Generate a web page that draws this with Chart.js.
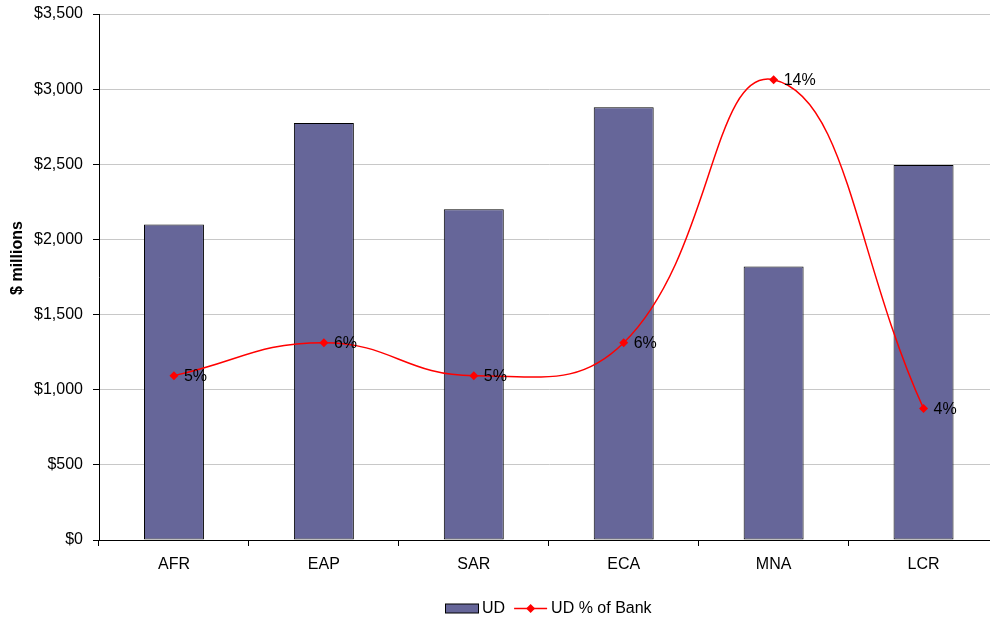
<!DOCTYPE html>
<html>
<head>
<meta charset="utf-8">
<script src="https://cdn.jsdelivr.net/npm/chart.js@4/dist/chart.umd.min.js"></script>
<style>
  html, body { margin: 0; padding: 0; background: #fff; overflow: hidden; }
  #wrap { width: 1003px; height: 620px; position: relative; }
</style>
</head>
<body>
<div id="wrap"><canvas id="c" width="1003" height="620"></canvas></div>
<script>
// Regions and their UD volumes ($ millions) and UD share of Bank total
const regions = ['AFR', 'EAP', 'SAR', 'ECA', 'MNA', 'LCR'];
const udMillions = [2100, 2775, 2200, 2880, 1820, 2495];
const udShareOfBank = [0.05, 0.06, 0.05, 0.06, 0.14, 0.04];
const yTicks = [0, 500, 1000, 1500, 2000, 2500, 3000, 3500];

const FONT = '"Liberation Sans", Arial, Helvetica, sans-serif';
const BAR_FILL = '#666699';
const LINE_RED = '#ff0000';

// Percent labels to the right of each line point
const pctLabels = {
  id: 'pctLabels',
  afterDatasetsDraw(chart) {
    const meta = chart.getDatasetMeta(1);
    const ctx = chart.ctx;
    ctx.save();
    ctx.font = '16px ' + FONT;
    ctx.fillStyle = '#000';
    ctx.textAlign = 'left';
    ctx.textBaseline = 'middle';
    meta.data.forEach((pt, i) => {
      const v = chart.data.datasets[1].data[i];
      ctx.fillText(Math.round(v * 100) + '%', pt.x + 10, pt.y + 1);
    });
    ctx.restore();
  }
};

// Rotated axis title on the left
const yTitle = {
  id: 'yTitle',
  afterDraw(chart) {
    const ctx = chart.ctx;
    ctx.save();
    ctx.translate(18, 258);
    ctx.rotate(-Math.PI / 2);
    ctx.font = 'bold 16px ' + FONT;
    ctx.fillStyle = '#000';
    ctx.textAlign = 'center';
    ctx.textBaseline = 'middle';
    ctx.fillText('$ millions', 0, 0);
    ctx.restore();
  }
};

// Legend under the plot, centred on the plot area: bordered box, then line with diamond
const bottomLegend = {
  id: 'bottomLegend',
  afterDraw(chart) {
    const ctx = chart.ctx;
    const area = chart.chartArea;
    const ds = chart.data.datasets;
    ctx.save();
    ctx.font = '16px ' + FONT;
    const swW = 33, gap = 4, itemGap = 9;
    const w0 = ctx.measureText(ds[0].label).width;
    const w1 = ctx.measureText(ds[1].label).width;
    const total = swW + gap + w0 + itemGap + swW + gap + w1;
    let x = Math.round((area.left + area.right) / 2 - total / 2);
    const cy = 608.5;

    ctx.fillStyle = BAR_FILL;
    ctx.fillRect(x + 0.5, cy - 4.5, swW, 9);
    ctx.strokeStyle = '#000';
    ctx.lineWidth = 1;
    ctx.strokeRect(x + 0.5, cy - 4.5, swW, 9);
    x += swW + gap;
    ctx.fillStyle = '#000';
    ctx.textBaseline = 'middle';
    ctx.fillText(ds[0].label, x, cy);
    x += w0 + itemGap;

    ctx.strokeStyle = LINE_RED;
    ctx.lineWidth = 1.5;
    ctx.beginPath(); ctx.moveTo(x, cy); ctx.lineTo(x + swW, cy); ctx.stroke();
    const mx = x + swW / 2;
    ctx.fillStyle = LINE_RED;
    ctx.beginPath();
    ctx.moveTo(mx, cy - 4.5); ctx.lineTo(mx + 4.5, cy); ctx.lineTo(mx, cy + 4.5); ctx.lineTo(mx - 4.5, cy);
    ctx.closePath(); ctx.fill();
    x += swW + gap;
    ctx.fillStyle = '#000';
    ctx.fillText(ds[1].label, x, cy);
    ctx.restore();
  }
};

new Chart(document.getElementById('c'), {
  data: {
    labels: regions,
    datasets: [
      {
        type: 'bar',
        label: 'UD',
        data: udMillions,
        backgroundColor: BAR_FILL,
        borderColor: '#000',
        borderWidth: 1,
        borderSkipped: false,
        barPercentage: 0.4,
        categoryPercentage: 1,
        yAxisID: 'y',
        order: 2
      },
      {
        type: 'line',
        label: 'UD % of Bank',
        data: udShareOfBank,
        borderColor: LINE_RED,
        backgroundColor: LINE_RED,
        borderWidth: 1.5,
        tension: 0.45,
        pointStyle: 'rectRot',
        pointRadius: 4.5,
        pointBorderWidth: 0,
        yAxisID: 'y1',
        order: 1
      }
    ]
  },
  options: {
    responsive: false,
    animation: false,
    layout: { padding: { top: 14, right: 1, left: 0, bottom: 36 } },
    scales: {
      x: {
        offset: true,
        grid: {
          offset: true,
          drawOnChartArea: false,
          color: '#000',
          tickLength: 6
        },
        border: { color: '#000', width: 1 },
        ticks: { color: '#000', font: { family: FONT, size: 16 }, padding: 9 },
        afterFit(scale) { scale.height = 44; }
      },
      y: {
        min: 0,
        max: 3500,
        afterBuildTicks(scale) { scale.ticks = yTicks.map(v => ({ value: v })); },
        grid: { color: '#c8c8c8', tickColor: '#000', tickLength: 6 },
        border: { color: '#000', width: 1 },
        ticks: {
          color: '#000',
          font: { family: FONT, size: 16 },
          padding: 10,
          callback: v => '$' + Number(v).toLocaleString('en-US')
        },
        afterFit(scale) {
          scale.width = 99;
          scale.paddingTop = 0;
          scale.paddingBottom = 0;
        }
      },
      y1: {
        display: false,
        min: 0,
        max: 0.16
      }
    },
    plugins: {
      legend: { display: false },
      tooltip: { enabled: false }
    }
  },
  plugins: [pctLabels, yTitle, bottomLegend]
});
</script>
</body>
</html>
